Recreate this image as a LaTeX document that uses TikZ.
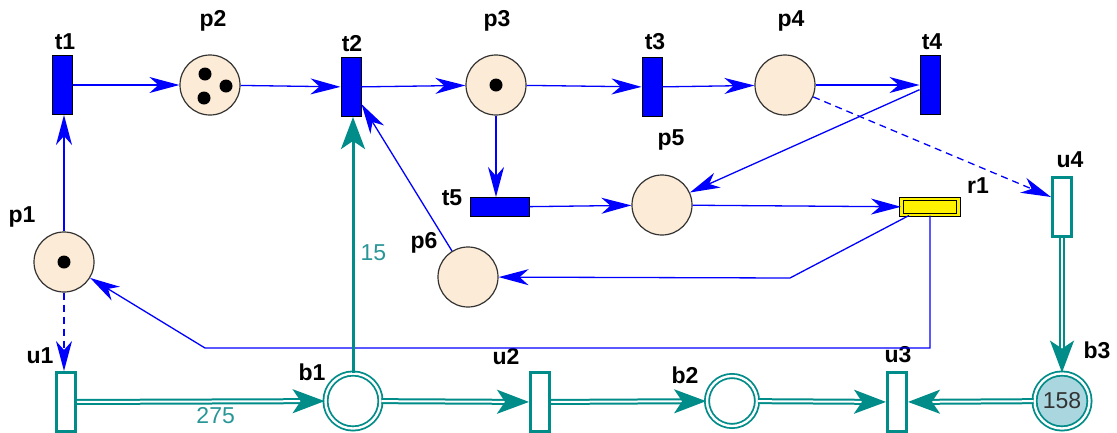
\documentclass[tikz,border=0pt]{standalone}
\usepackage{fontspec}
\setmainfont{Liberation Sans}
\usetikzlibrary{arrows.meta,calc}
\definecolor{pblue}{RGB}{0,0,255}
\definecolor{pfill}{RGB}{252,235,214}
\definecolor{tealc}{RGB}{0,140,136}
\definecolor{teallab}{RGB}{40,150,150}
\definecolor{bfill}{RGB}{170,214,224}
\begin{document}
\begin{tikzpicture}[x=1pt,y=-1pt,
  place/.style={circle,draw=black!80,line width=1.2pt,fill=pfill,minimum size=60pt,inner sep=0pt},
  trans/.style={rectangle,draw=black,line width=1pt,fill=pblue,minimum width=20pt,minimum height=59pt,inner sep=0pt},
  htrans/.style={rectangle,draw=black,line width=1pt,fill=pblue,minimum width=59pt,minimum height=19pt,inner sep=0pt},
  rtrans/.style={rectangle,draw=black,line width=1pt,double=yellow,double distance=2.2pt,fill=yellow,minimum width=57pt,minimum height=16pt,inner sep=0pt},
  utrans/.style={rectangle,draw=tealc,line width=3pt,fill=white,minimum width=19pt,minimum height=59pt,inner sep=0pt},
  bplace/.style={circle,draw=tealc,line width=1.8pt,double=white,double distance=2.4pt,fill=white,minimum size=55pt,inner sep=0pt},
  token/.style={circle,fill=black,minimum size=13pt,inner sep=0pt},
  lab/.style={font=\fontsize{23}{23}\selectfont\bfseries,text=black,inner sep=0pt},
  tlab/.style={font=\fontsize{23}{23}\selectfont,text=teallab,inner sep=0pt},
  arc/.style={draw=pblue,line width=1.3pt,-{Stealth[length=30pt,width=16pt,inset=9pt]}},
  darc/.style={arc,dash pattern=on 7pt off 5pt},
  tarc/.style={draw=tealc,line width=2pt,double=white,double distance=2pt,-{Stealth[length=32pt,width=24pt,inset=8pt]}},
  tsarc/.style={draw=tealc,line width=3pt,-{Stealth[length=32pt,width=24pt,inset=8pt]}}
]
\useasboundingbox (0,0) rectangle (1117,432);

% places
\node[place] (p1) at (64,262) {};
\node[place] (p2) at (210,85) {};
\node[place] (p3) at (496,85) {};
\node[place] (p4) at (785,85) {};
\node[place] (p5) at (662,205) {};
\node[place] (p6) at (468,277) {};
\node[token] (k1) at (p1) {};
\node[token] (k2a) at ($(p2)+(-5,-11)$) {};
\node[token] (k2b) at ($(p2)+(16,1)$) {};
\node[token] (k2c) at ($(p2)+(-6,13)$) {};
\node[token] (k3) at (p3) {};

% transitions
\node[trans] (t1) at (62,85) {};
\node[trans] (t2) at (351,87) {};
\node[trans] (t3) at (652,87) {};
\node[trans] (t4) at (930,85) {};
\node[htrans] (t5) at (500,207) {};
\node[rtrans] (r1) at (930,207) {};

% bottom net
\node[utrans] (u1) at (66,402) {};
\node[utrans] (u2) at (540,402) {};
\node[utrans] (u3) at (897,402) {};
\node[utrans] (u4) at (1062,207) {};
\node[bplace] (b1) at (353,401) {};
\node[bplace,minimum size=50pt] (b2) at (732,401) {};
\node[bplace,fill=bfill,font=\fontsize{23}{23}\selectfont,text=black!80] (b3) at (1062,401) {158};

% labels
\node[lab] (lt1) at (65,42) {t1};
\node[lab] (lp2) at (213,21) {p2};
\node[lab] (lt2) at (352,44) {t2};
\node[lab] (lp3) at (497,21) {p3};
\node[lab] (lt3) at (655,42) {t3};
\node[lab] (lp4) at (791,21) {p4};
\node[lab] (lt4) at (932,42) {t4};
\node[lab] (lp5) at (671,140) {p5};
\node[lab] (lt5) at (452,198) {t5};
\node[lab] (lr1) at (978,186) {r1};
\node[lab] (lu4) at (1070,160) {u4};
\node[lab] (lp6) at (424,243) {p6};
\node[lab] (lp1) at (22,217) {p1};
\node[lab] (lu1) at (40,356) {u1};
\node[lab] (lb1) at (312,372) {b1};
\node[lab] (lu2) at (506,357) {u2};
\node[lab] (lb2) at (685,375) {b2};
\node[lab] (lu3) at (898,355) {u3};
\node[lab] (lb3) at (1097,350) {b3};

% blue arcs
\draw[arc] (t1) -- (p2);
\draw[arc] (p2) -- (t2);
\draw[arc] (t2) -- (p3);
\draw[arc] (p3) -- (t3);
\draw[arc] (t3) -- (p4);
\draw[arc] (p4) -- (t4);
\draw[arc] (p1.north) -- (p1.north |- t1.south);
\draw[arc] (p3.south) -- (p3.south |- t5.north);
\draw[arc] (t5) -- (p5);
\draw[arc] (t4) -- (p5);
\draw[arc] (p5) -- (r1);
\draw[arc] (p6) -- (t2);
\coordinate (c1) at (790,278);
\draw[arc] ($(r1.south west)+(8,0)$) -- (c1) -- (p6);
\coordinate (c2) at (205,348);
\draw[arc] (r1.south) |- (c2) -- (p1);
\draw[darc] (p4) -- ($(u4.west)+(0,-10)$);
\draw[darc] (p1.south) -- (p1.south |- u1.north);

% teal arcs
\draw[tsarc] (b1.north) -- (b1.north |- t2.south) node[tlab,pos=0.47,right=6pt] (l15) {15};
\draw[tarc] (u1) -- (b1) node[tlab,pos=0.56,below=5pt] (l275) {275};
\draw[tarc] (b1) -- (u2);
\draw[tarc] (u2) -- (b2);
\draw[tarc] (b2) -- (u3);
\draw[tarc] (b3) -- (u3);
\draw[tarc] (u4) -- (b3);
\end{tikzpicture}
\end{document}
